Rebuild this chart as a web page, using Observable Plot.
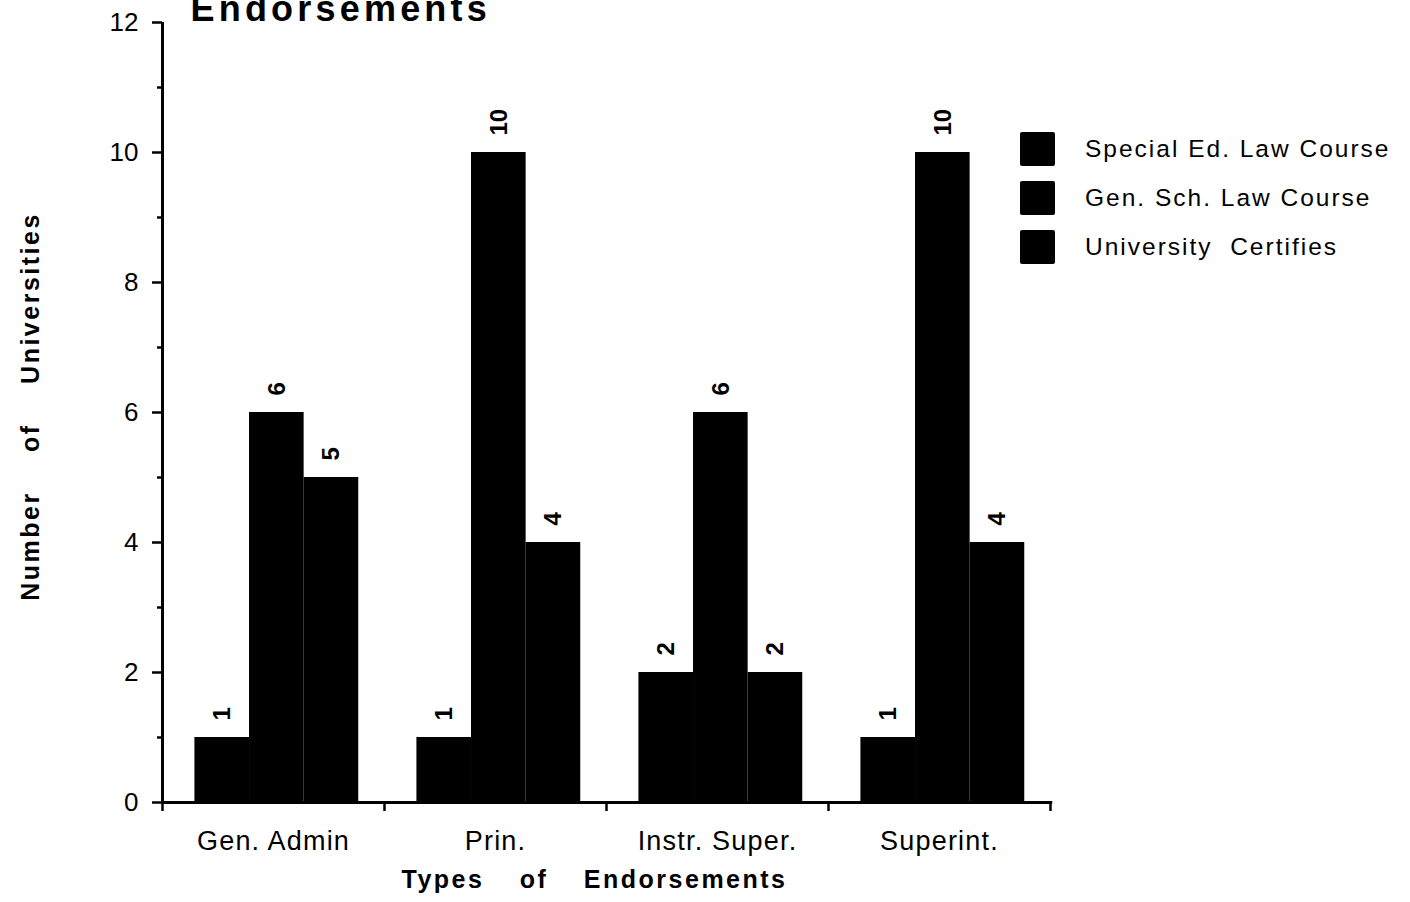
<!DOCTYPE html>
<html>
<head>
<meta charset="utf-8">
<script src="https://cdn.jsdelivr.net/npm/d3@7"></script>
<script src="https://cdn.jsdelivr.net/npm/@observablehq/plot@0.6"></script>
<style>
  html, body { margin: 0; padding: 0; background: #fff; overflow: hidden; }
  #wrap { position: relative; width: 1410px; height: 902px; }
  #legend { position: absolute; left: 1020px; top: 124px; font-family: "Liberation Sans", Arial, sans-serif; font-size: 24.5px; letter-spacing: 2px; color: #000; }
  #legend .row { display: flex; align-items: center; height: 49px; }
  #legend .sw { width: 35px; height: 34px; background: #000; margin-right: 30px; border-radius: 2px; }
  #legend .lab { white-space: pre; }
</style>
</head>
<body>
<div id="wrap"></div>
<script>
const categories = ["Gen. Admin", "Prin.", "Instr. Super.", "Superint."];
const series = ["Special Ed. Law Course", "Gen. Sch. Law Course", "University  Certifies"];
const specialEdLaw = [1, 1, 2, 1];
const genSchLaw = [6, 10, 6, 10];
const univCertifies = [5, 4, 2, 4];
const yMajorTicks = [0, 2, 4, 6, 8, 10, 12];
const yMinorTicks = [1, 3, 5, 7, 9, 11];
const titleText = "Endorsements";
const xTitle = "Types of Endorsements";
const yTitle = "Number of Universities";

const seriesValues = [specialEdLaw, genSchLaw, univCertifies];
const rows = categories.flatMap((c, ci) => series.map((s, si) => ({cat: c, ci, si, value: seriesValues[si][ci]})));

const OFF = 0.146, BW = 0.246;
const bx1 = d => d.ci + OFF + d.si * BW;
const bx2 = d => d.ci + OFF + (d.si + 1) * BW;
const bxc = d => d.ci + OFF + (d.si + 0.5) * BW;

const plot = Plot.plot({
  width: 1410,
  height: 902,
  marginLeft: 162,
  marginRight: 360,
  marginTop: 22,
  marginBottom: 100,
  style: {fontFamily: "'Liberation Sans', Arial, sans-serif", color: "#000", background: "#fff", overflow: "visible"},
  x: {domain: [0, 4]},
  y: {domain: [0, 12]},
  marks: [
    Plot.rect(rows, {x1: bx1, x2: bx2, y1: 0, y2: "value", fill: "#000"}),
    Plot.text(rows, {x: bxc, y: "value", text: d => String(d.value), rotate: -90, textAnchor: "start", lineAnchor: "middle", dy: -17, fontSize: 24, fontWeight: "bold"}),
    Plot.axisY({ticks: yMajorTicks, tickSize: 10, tickPadding: 14, fontSize: 26, strokeWidth: 2.5, label: null}),
    Plot.axisY({ticks: yMinorTicks, tickSize: 5, tickFormat: () => "", strokeWidth: 2.5, label: null}),
    Plot.axisX({ticks: [0, 1, 2, 3, 4], tickSize: 9, tickFormat: () => "", strokeWidth: 2.5, label: null}),
    Plot.axisX({ticks: categories.map((c, i) => i + 0.5), tickFormat: d => categories[Math.floor(d)], tickSize: 0, tickPadding: 28, fontSize: 27, label: null}),
    Plot.ruleX([0], {y1: 0, y2: 12, strokeWidth: 3}),
    Plot.ruleY([0], {x1: 0, x2: 4.01, strokeWidth: 3}),
    Plot.text([xTitle], {frameAnchor: "bottom", text: d => d, dy: 85, dx: -12, fontSize: 25, fontWeight: "bold", textAnchor: "middle", lineAnchor: "bottom"}),
    Plot.text([yTitle], {frameAnchor: "left", text: d => d, rotate: -90, dx: -132, dy: -6, fontSize: 25, fontWeight: "bold", textAnchor: "middle", lineAnchor: "middle"}),
    Plot.text([titleText], {frameAnchor: "top-left", text: d => d, dx: 28, dy: -2, fontSize: 36, fontWeight: "bold", textAnchor: "start", lineAnchor: "bottom"})
  ]
});

const svg = d3.select(plot);
svg.selectAll("text").filter(function() { return this.textContent === xTitle; })
  .style("letter-spacing", "2.5px").style("word-spacing", "26px");
svg.selectAll("text").filter(function() { return this.textContent === yTitle; })
  .style("letter-spacing", "2.5px").style("word-spacing", "30px");
svg.selectAll("text").filter(function() { return this.textContent === titleText; })
  .style("letter-spacing", "4.2px");
svg.selectAll("text").filter(function() { return categories.includes(this.textContent); })
  .style("letter-spacing", "1.2px");

const wrap = document.getElementById("wrap");
wrap.appendChild(plot);

const legend = document.createElement("div");
legend.id = "legend";
for (const s of series) {
  const row = document.createElement("div");
  row.className = "row";
  const sw = document.createElement("div");
  sw.className = "sw";
  const lab = document.createElement("span");
  lab.className = "lab";
  lab.textContent = s;
  row.appendChild(sw);
  row.appendChild(lab);
  legend.appendChild(row);
}
wrap.appendChild(legend);
</script>
</body>
</html>
